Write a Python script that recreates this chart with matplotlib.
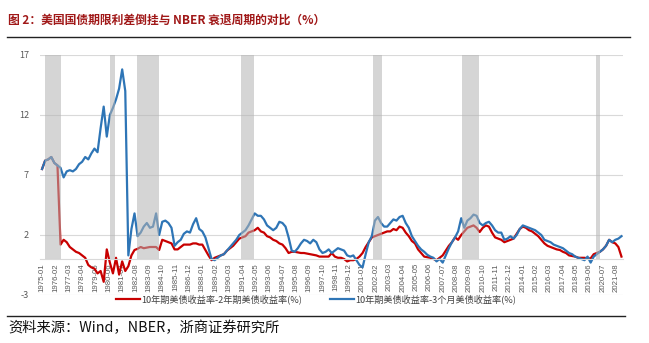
import matplotlib
matplotlib.use('Agg')
import matplotlib.pyplot as plt
from matplotlib.lines import Line2D
import pandas as pd

plt.rcParams['font.family'] = ['Noto Sans CJK SC', 'DejaVu Sans']

# ---------------- data ----------------
first_month = '1975-01'
quarter_months = pd.period_range('1975-01', '2022-01', freq='M')[::3]

# 10Y - 2Y spread (%), quarterly samples
spread_10y2y = [
    7.5, 8.2, 8.3, 8.5, 8.0, 7.8, 1.2, 1.6, 1.4, 1.0, 0.8, 0.6, 0.5, 0.3, 0.1, -0.5,
    -0.7, -0.8, -1.2, -1.0, -1.9, 0.8, -0.3, -1.2, 0.1, -1.3, -0.2, -1.0, -0.6, 0.3, 0.75, 0.85,
    1.0, 0.9, 0.95, 1.0, 1.0, 1.0, 0.75, 1.6, 1.5, 1.4, 1.3, 0.8, 0.8, 1.0, 1.2, 1.2,
    1.2, 1.3, 1.3, 1.2, 1.2, 0.75, 0.3, -0.1, 0.1, 0.2, 0.3, 0.4, 0.7, 0.9, 1.1, 1.4,
    1.7, 1.8, 1.9, 2.2, 2.3, 2.4, 2.6, 2.3, 2.2, 1.9, 1.8, 1.6, 1.5, 1.3, 1.2, 0.9,
    0.5, 0.6, 0.6, 0.55, 0.5, 0.5, 0.45, 0.4, 0.35, 0.3, 0.2, 0.2, 0.2, 0.2, 0.5, 0.2,
    0.1, 0.1, 0.0, -0.2, -0.1, -0.1, 0.0, 0.2, 0.5, 1.0, 1.4, 1.8, 1.9, 2.0, 2.1, 2.2,
    2.3, 2.3, 2.5, 2.4, 2.7, 2.6, 2.2, 1.9, 1.5, 1.3, 0.8, 0.5, 0.2, 0.15, 0.1, 0.0,
    -0.1, 0.1, 0.3, 0.7, 1.1, 1.4, 1.8, 1.6, 2.0, 2.3, 2.6, 2.7, 2.8, 2.6, 2.25, 2.6,
    2.8, 2.7, 2.2, 1.8, 1.7, 1.6, 1.4, 1.5, 1.6, 1.7, 2.1, 2.5, 2.7, 2.6, 2.4, 2.3,
    2.1, 1.9, 1.6, 1.3, 1.1, 1.0, 0.9, 0.8, 0.75, 0.6, 0.5, 0.3, 0.25, 0.2, 0.1, 0.1,
    0.1, 0.05, 0.05, 0.4, 0.5, 0.6, 0.8, 1.1, 1.6, 1.4, 1.3, 1.0, 0.2,
]

# 10Y - 3M spread (%), quarterly samples
spread_10y3m = [
    7.5, 8.2, 8.3, 8.5, 8.0, 7.8, 7.6, 6.8, 7.3, 7.4, 7.3, 7.5, 7.9, 8.1, 8.5, 8.3,
    8.8, 9.2, 8.9, 10.9, 12.7, 10.2, 12.0, 12.6, 13.3, 14.2, 15.8, 14.0, 0.3, 2.5, 3.8, 1.9,
    2.2, 2.7, 3.0, 2.6, 2.7, 3.8, 2.0, 3.1, 3.2, 3.0, 2.6, 1.1, 1.4, 1.6, 2.1, 2.3,
    2.2, 2.9, 3.4, 2.5, 2.3, 1.8, 0.9, 0.0, -0.1, 0.1, 0.3, 0.4, 0.7, 1.0, 1.3, 1.6,
    2.0, 2.2, 2.4, 2.8, 3.3, 3.8, 3.6, 3.6, 3.3, 2.8, 2.6, 2.4, 2.6, 3.1, 3.0, 2.7,
    1.8, 0.7, 0.6, 0.9, 1.3, 1.6, 1.5, 1.3, 1.6, 1.4, 0.8, 0.5, 0.6, 0.8, 0.5, 0.7,
    0.9, 0.8, 0.7, 0.3, 0.2, 0.3, -0.1, -0.5, -0.7, 0.4, 1.4, 1.9, 3.2, 3.5, 3.0, 2.7,
    2.7, 3.0, 3.3, 3.2, 3.5, 3.6, 3.0, 2.6, 1.9, 1.5, 1.1, 0.8, 0.6, 0.35, 0.2, 0.1,
    -0.2, 0.0, -0.3, 0.3, 0.9, 1.4, 1.8, 2.3, 3.4, 2.6, 3.2, 3.4, 3.7, 3.6, 3.0, 2.8,
    3.0, 3.1, 2.8, 2.4, 2.2, 2.2, 1.6, 1.7, 1.9, 1.7, 2.0, 2.5, 2.8, 2.7, 2.6, 2.5,
    2.4, 2.2, 2.0, 1.6, 1.5, 1.4, 1.2, 1.1, 1.0, 0.9, 0.7, 0.5, 0.4, 0.2, 0.1, 0.0,
    -0.1, 0.2, -0.3, 0.2, 0.4, 0.6, 0.8, 1.1, 1.6, 1.4, 1.6, 1.7, 1.9,
]

# NBER recession periods as shown in the chart (start, end)
recession_starts = ['1975-04', '1980-07', '1982-09', '1991-03', '2001-11', '2009-02', '2019-12']
recession_ends = ['1976-07', '1980-12', '1984-07', '1992-03', '2002-08', '2010-06', '2020-04']

tick_labels = [
    '1975-01', '1976-02', '1977-03', '1978-04', '1979-05', '1980-06', '1981-07', '1982-08',
    '1983-09', '1984-10', '1985-11', '1986-12', '1988-01', '1989-02', '1990-03', '1991-04',
    '1992-05', '1993-06', '1994-07', '1995-08', '1996-09', '1997-10', '1998-11', '1999-12',
    '2001-01', '2002-02', '2003-03', '2004-04', '2005-05', '2006-06', '2007-07', '2008-08',
    '2009-09', '2010-10', '2011-11', '2012-12', '2014-01', '2015-02', '2016-03', '2017-04',
    '2018-05', '2019-06', '2020-07', '2021-08',
]

label_2y = '10年期美债收益率-2年期美债收益率(%)'
label_3m = '10年期美债收益率-3个月美债收益率(%)'
title = '图 2：美国国债期限利差倒挂与 NBER 衰退周期的对比（%）'
source = '资料来源：Wind，NBER，浙商证券研究所'
y_ticks = [-3, 2, 7, 12, 17]


def month_index(s):
    p = pd.Period(s, freq='M')
    p0 = pd.Period(first_month, freq='M')
    return (p.year - p0.year) * 12 + (p.month - p0.month)


x_q = [month_index(str(p)) for p in quarter_months]
x_ticks = [month_index(t) for t in tick_labels]

# ---------------- figure ----------------
W, H = 649, 343
fig = plt.figure(figsize=(W / 100, H / 100), dpi=100)
ax = fig.add_axes([40 / W, 1 - 295 / H, (623 - 40) / W, 240 / H])

# spine placement first (it resets the ticks)
for sp in ['left', 'right', 'top']:
    ax.spines[sp].set_visible(False)
ax.spines['bottom'].set_position(('data', 0))
ax.spines['bottom'].set_color('#d9d9d9')
ax.spines['bottom'].set_linewidth(0.8)

red = '#C80000'
blue = '#2E75B6'
ax.plot(x_q, spread_10y2y, color=red, lw=1.6, zorder=2, label=label_2y)
ax.plot(x_q, spread_10y3m, color=blue, lw=1.6, zorder=2.1, label=label_3m)

for s, e in zip(recession_starts, recession_ends):
    ax.fill_between([month_index(s), month_index(e)], 0, 17,
                    color='#b4b4b4', alpha=0.55, lw=0, zorder=3)

ax.set_xlim(-2, 565.5)
ax.set_ylim(-3, 17)
ax.set_yticks(y_ticks)
ax.set_yticklabels([str(v) for v in y_ticks], fontsize=6.5, color='#595959')
ax.grid(axis='y', color='#d9d9d9', lw=0.8, zorder=0)
ax.set_axisbelow(True)

ax.set_xticks(x_ticks)
ax.set_xticklabels(tick_labels, rotation=90, fontsize=5.6, color='#595959',
                   family=['Liberation Sans', 'DejaVu Sans'])
ax.tick_params(axis='x', length=0, pad=3)
ax.tick_params(axis='y', length=0, pad=8)

leg = fig.legend(loc='center', bbox_to_anchor=(0.487, 1 - 299 / H), ncol=2,
                 frameon=False, fontsize=6.6, handlelength=2.6, handletextpad=0.2,
                 columnspacing=3.0)
for t in leg.get_texts():
    t.set_color('#404040')

fig.text(8 / W, 1 - 20 / H, title, color='#A01818', fontsize=8.5,
         fontweight='bold', va='center', ha='left')
fig.add_artist(Line2D([7 / W, 630 / W], [1 - 37 / H] * 2, color='#222222', lw=1.0))
fig.add_artist(Line2D([7 / W, 625 / W], [1 - 316 / H] * 2, color='#222222', lw=1.0))
fig.text(8 / W, 1 - 328 / H, source, color='#111111', fontsize=10.3,
         va='center', ha='left')

fig.savefig('out.png', dpi=100)
